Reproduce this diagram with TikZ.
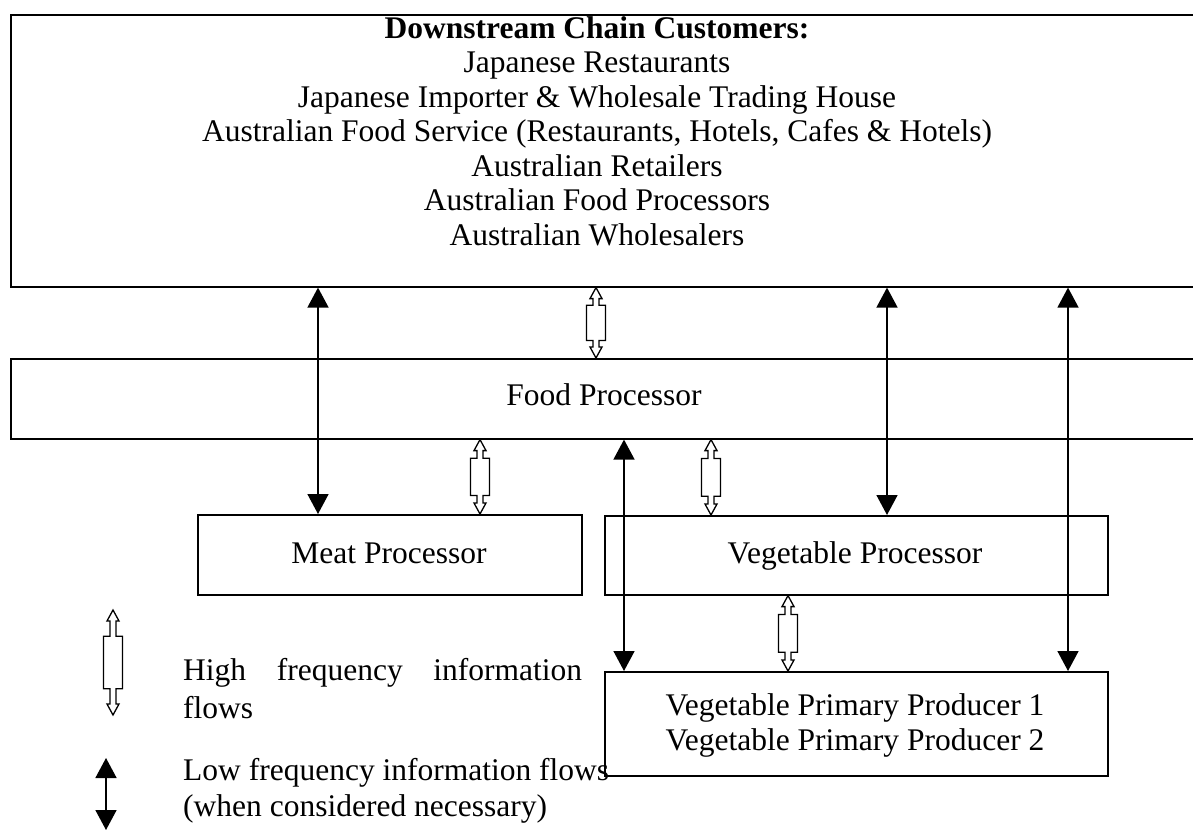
\documentclass[tikz,border=0pt]{standalone}
\usepackage{fontspec}
\setmainfont{Liberation Serif}
\usetikzlibrary{arrows.meta,calc}

% double-headed hollow arrow between two points on one vertical line
\newcommand\hiflow[2]{%
  \draw[hiflowline] let \p1=#1, \p2=#2 in
    (\x1,\y1) -- ({\x1+6pt},{\y1-11pt}) -- ({\x1+3pt},{\y1-11pt})
    -- ({\x1+3pt},{\y1-0.25*(\y1-\y2)}) -- ({\x1+9.5pt},{\y1-0.25*(\y1-\y2)})
    -- ({\x1+9.5pt},{\y2+0.25*(\y1-\y2)}) -- ({\x1+3pt},{\y2+0.25*(\y1-\y2)})
    -- ({\x1+3pt},{\y2+11pt}) -- ({\x1+6pt},{\y2+11pt}) -- (\x1,\y2)
    -- ({\x1-6pt},{\y2+11pt}) -- ({\x1-3pt},{\y2+11pt})
    -- ({\x1-3pt},{\y2+0.25*(\y1-\y2)}) -- ({\x1-9.5pt},{\y2+0.25*(\y1-\y2)})
    -- ({\x1-9.5pt},{\y1-0.25*(\y1-\y2)}) -- ({\x1-3pt},{\y1-0.25*(\y1-\y2)})
    -- ({\x1-3pt},{\y1-11pt}) -- ({\x1-6pt},{\y1-11pt}) -- cycle;}

\begin{document}
\begin{tikzpicture}[x=1pt,y=-1pt,
  box/.style={draw, line width=1.6pt, anchor=north west, inner sep=0pt},
  txt/.style={font=\fontsize{31.5}{34.5}\selectfont, inner sep=0pt, anchor=base},
  lowflow/.style={line width=1.6pt,
    {Triangle[width=21pt,length=20pt]}-{Triangle[width=21pt,length=20pt]}},
  hiflowline/.style={draw, line width=1.3pt, fill=white, line join=miter}]

\useasboundingbox (0,0) rectangle (1193,834);
\clip (0,0) rectangle (1193,834);

% boxes (the two wide ones run past the right edge)
\node[box, minimum width=1220pt, minimum height=272pt] (down) at (10,14) {};
\node[box, minimum width=1220pt, minimum height=80pt] (food) at (10,358) {};
\node[box, minimum width=384pt, minimum height=80pt] (meat) at (197,514) {};
\node[box, minimum width=503pt, minimum height=79pt] (vegp) at (604,515) {};
\node[box, minimum width=503pt, minimum height=104pt] (prim) at (604,671) {};

% customer list
\node[txt] (d0) at (597,38.5) {\textbf{Downstream Chain Customers:}};
\node[txt] (d1) at (597,73) {Japanese Restaurants};
\node[txt] (d2) at (597,107.5) {Japanese Importer \& Wholesale Trading House};
\node[txt] (d3) at (597,142) {Australian Food Service (Restaurants, Hotels, Cafes \& Hotels)};
\node[txt] (d4) at (597,176.5) {Australian Retailers};
\node[txt] (d5) at (597,211) {Australian Food Processors};
\node[txt] (d6) at (597,246) {Australian Wholesalers};

\node[txt] (foodt) at (604,405) {Food Processor};
\node[txt] (meatt) at (389,563) {Meat Processor};
\node[txt] (vegpt) at (855,563) {Vegetable Processor};
\node[txt] (prim1) at (855,715) {Vegetable Primary Producer 1};
\node[txt] (prim2) at (855,750) {Vegetable Primary Producer 2};

% low frequency flows
\draw[lowflow] (down.south -| 318,0) -- (meat.north -| 318,0);
\draw[lowflow] (down.south -| 887,0) -- (vegp.north -| 887,0);
\draw[lowflow] (down.south -| 1068,0) -- (prim.north -| 1068,0);
\draw[lowflow] (food.south -| 624,0) -- (prim.north -| 624,0);

% high frequency flows
\hiflow{(down.south -| 596,0)}{(food.north -| 596,0)}
\hiflow{(food.south -| 480,0)}{(meat.north -| 480,0)}
\hiflow{(food.south -| 711,0)}{(vegp.north -| 711,0)}
\hiflow{(vegp.south -| 788,0)}{(prim.north -| 788,0)}

% key
\coordinate (hiA) at (113,610);
\coordinate (hiB) at (113,715);
\hiflow{(hiA)}{(hiB)}
\node[txt, anchor=base west] (k1) at (183,680) {\makebox[399pt][s]{High frequency information}};
\node[txt, anchor=base west] (k2) at (183,718) {flows};

\coordinate (loA) at (106,758);
\coordinate (loB) at (106,830);
\draw[lowflow] (loA) -- (loB);
\node[txt, anchor=base west] (k3) at (183,780) {Low frequency information flows};
\node[txt, anchor=base west] (k4) at (183,816) {(when considered necessary)};
\end{tikzpicture}
\end{document}
